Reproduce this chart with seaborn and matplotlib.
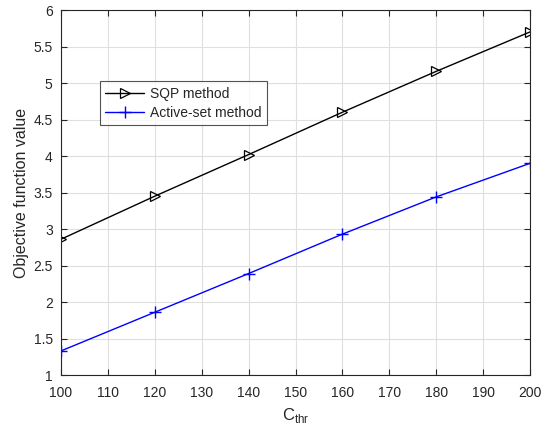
import matplotlib
matplotlib.use("Agg")
import matplotlib.pyplot as plt
import seaborn as sns
import pandas as pd

c_thr = [100, 120, 140, 160, 180, 200]
sqp_values = [2.86, 3.45, 4.02, 4.60, 5.16, 5.70]
active_values = [1.33, 1.86, 2.39, 2.93, 3.44, 3.90]
series_names = ["SQP method", "Active-set method"]

df = pd.concat([
    pd.DataFrame({"C": c_thr, "val": sqp_values, "method": series_names[0]}),
    pd.DataFrame({"C": c_thr, "val": active_values, "method": series_names[1]}),
])

sns.set_theme(style="white")
plt.rcParams['font.family'] = ['Liberation Sans', 'DejaVu Sans']

fig = plt.figure(figsize=(5.51, 4.28), dpi=100)
ax = fig.add_axes([0.1107, 0.1238, 0.8513, 0.8528])

sns.lineplot(data=df[df.method == series_names[0]], x="C", y="val", ax=ax,
             color="black", marker=">", markersize=7, markerfacecolor="none",
             markeredgecolor="black", markeredgewidth=0.9, linewidth=1.0,
             label=series_names[0])
sns.lineplot(data=df[df.method == series_names[1]], x="C", y="val", ax=ax,
             color="blue", marker="+", markersize=9, markeredgewidth=1.0,
             markeredgecolor="blue", markerfacecolor="blue",
             linewidth=1.0, label=series_names[1])

ax.set_xlim(100, 200)
ax.set_ylim(1, 6)
ax.set_xticks(range(100, 201, 10))
ax.set_yticks([1, 1.5, 2, 2.5, 3, 3.5, 4, 4.5, 5, 5.5, 6])
ax.set_yticklabels(["1", "1.5", "2", "2.5", "3", "3.5", "4", "4.5", "5", "5.5", "6"])
ax.grid(True, color="#dfdfdf", linewidth=0.8)
ax.set_axisbelow(True)
for s in ax.spines.values():
    s.set_visible(True)
    s.set_color("#262626")
    s.set_linewidth(0.8)
ax.tick_params(direction="in", length=4, width=0.8, colors="#262626",
               labelsize=10, top=True, right=True, bottom=True, left=True,
               labelcolor="#262626")
ax.tick_params(axis="x", pad=8)
ax.tick_params(axis="y", pad=6)
ax.set_xlabel(r"C$_{\mathregular{thr}}$", fontsize=12, color="#262626", labelpad=4)
ax.set_ylabel("Objective function value", fontsize=11.5, color="#262626", labelpad=3)

leg = ax.legend(loc="upper left", bbox_to_anchor=(0.083, 0.805), fontsize=10,
                frameon=True, fancybox=False, edgecolor="#262626",
                borderpad=0.4, handlelength=2.8, labelspacing=0.35,
                handletextpad=0.4, borderaxespad=0)
leg.get_frame().set_linewidth(0.8)

fig.savefig("out.png", dpi=100)
